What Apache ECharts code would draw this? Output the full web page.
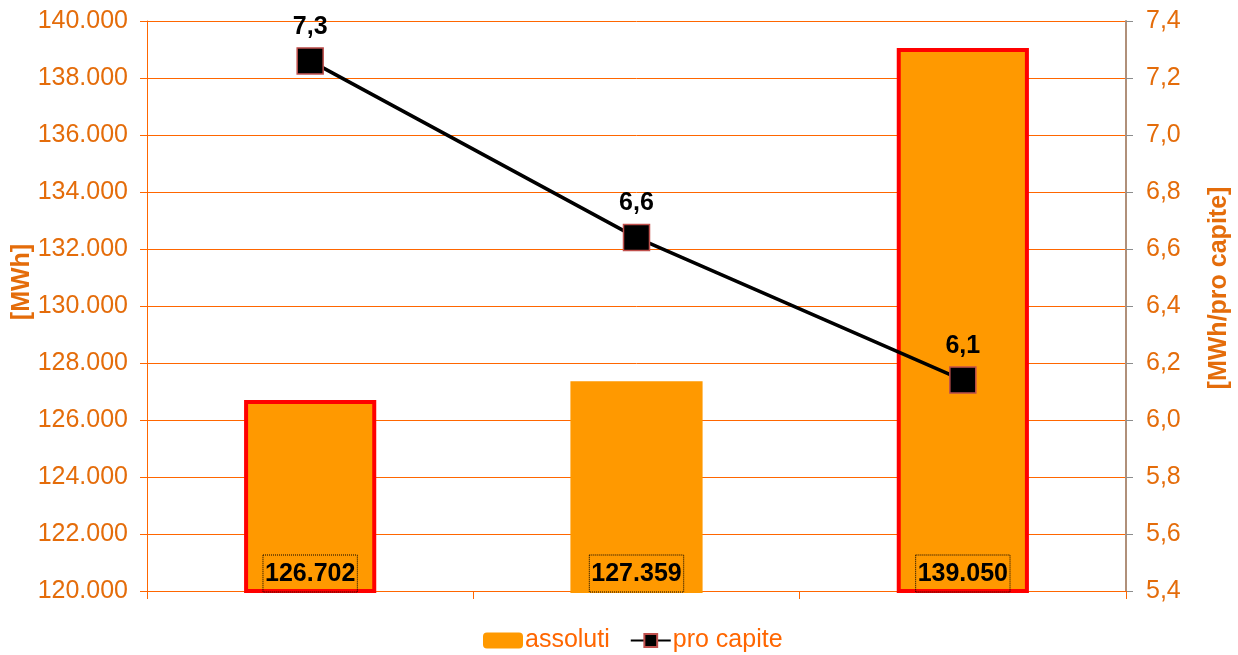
<!DOCTYPE html>
<html><head><meta charset="utf-8">
<script src="https://cdn.jsdelivr.net/npm/echarts@6/dist/echarts.min.js"></script>
<style>html,body{margin:0;padding:0;background:#fff}#c{width:1238px;height:655px}</style>
</head><body><div id="c"></div>
<script>
const categories = ['A', 'B', 'C'];
const assoluti = [126702, 127359, 139050];
const proCapite = [7.26, 6.64, 6.14];
const highlighted = [true, false, true];

const orange = '#E46C0A';
const fmtThousands = v => Math.round(v).toString().replace(/\B(?=(\d{3})+(?!\d))/g, '.');
const fmtComma = v => (Math.round(v * 10) / 10).toFixed(1).replace('.', ',');

const chart = echarts.init(document.getElementById('c'));
chart.setOption({
  animation: false,
  textStyle: { fontFamily: 'Liberation Sans, Arial, sans-serif' },
  grid: { left: 147, right: 112, top: 21, bottom: 64, containLabel: false, outerBoundsMode: 'none' },
  legend: {
    bottom: 2, left: 483, itemGap: 20, padding: 0,
    textStyle: { color: '#FF6600', fontSize: 25, padding: [0, 0, 0, -3] },
    data: [
      { name: 'assoluti', icon: 'roundRect', itemStyle: { color: '#FF9900', borderWidth: 0 } },
      { name: 'pro capite' }
    ],
    itemWidth: 40, itemHeight: 16
  },
  xAxis: {
    type: 'category', data: categories,
    axisLine: { lineStyle: { color: '#FF6600', width: 1 } },
    axisTick: { show: true, length: 8, lineStyle: { color: '#FF6600' } },
    axisLabel: { show: false }
  },
  yAxis: [{
    type: 'value', min: 120000, max: 140000, interval: 2000,
    name: '[MWh]', nameLocation: 'middle', nameGap: 112, nameRotate: 90, nameMoveOverlap: false,
    nameTextStyle: { color: orange, fontSize: 25, fontWeight: 'bold', padding: [0, 0, 0, 48] },
    axisLine: { show: true, lineStyle: { color: '#FF6600' } },
    axisTick: { show: true, length: 7, lineStyle: { color: '#FF6600' } },
    axisLabel: { color: orange, fontSize: 25, margin: 19, formatter: fmtThousands },
    splitLine: { show: true, lineStyle: { color: '#FF6600', width: 1 } }
  }, {
    type: 'value', min: 5.4, max: 7.4, interval: 0.2,
    name: '[MWh/pro capite]', nameLocation: 'middle', nameGap: 81, nameRotate: 90, nameMoveOverlap: false,
    nameTextStyle: { color: orange, fontSize: 25, fontWeight: 'bold', padding: [0, 0, 0, 36] },
    axisLine: { show: true, lineStyle: { color: '#B0907A', width: 2 } },
    axisTick: { show: true, length: 7, lineStyle: { color: '#8C8C8C' } },
    axisLabel: { color: orange, fontSize: 25, margin: 20, formatter: fmtComma },
    splitLine: { show: false }
  }],
  series: [{
    name: 'assoluti', type: 'bar', yAxisIndex: 0, barWidth: '40.5%',
    data: assoluti.map((v, i) => ({
      value: v,
      itemStyle: highlighted[i]
        ? { color: '#FF9900', borderColor: '#FF0000', borderWidth: 4 }
        : { color: '#FF9900', borderColor: '#FF9900', borderWidth: 4 }
    })),
    itemStyle: { color: '#FF9900' },
    label: {
      show: true, position: 'insideBottom', distance: 1,
      color: '#000', fontSize: 25, fontWeight: 'bold',
      borderColor: '#000', borderWidth: 1, borderType: 'dotted', padding: [7, 2, 5, 2],
      formatter: p => fmtThousands(p.value)
    }
  }, {
    name: 'pro capite', type: 'line', yAxisIndex: 1,
    data: proCapite,
    symbol: 'rect', symbolSize: 26,
    lineStyle: { color: '#000', width: 3.5 },
    itemStyle: { color: '#000', borderColor: '#C0504D', borderWidth: 1.5 },
    label: {
      show: true, position: 'top', distance: 8,
      color: '#000', fontSize: 25, fontWeight: 'bold',
      formatter: p => fmtComma(p.value)
    },
    z: 5
  }]
});
</script></body></html>
